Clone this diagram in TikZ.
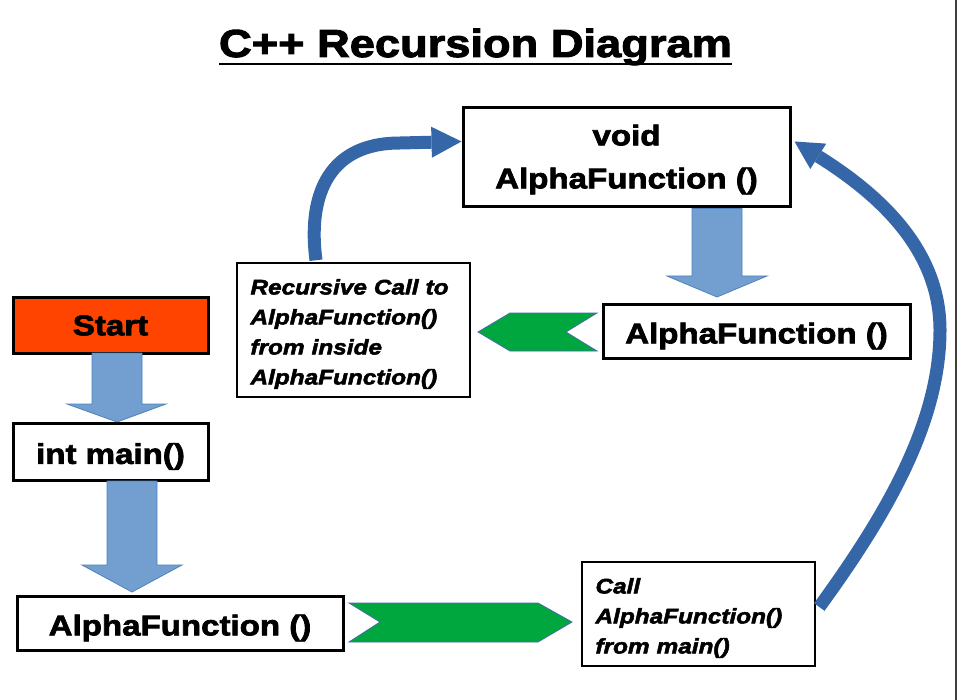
\documentclass[tikz,border=0pt]{standalone}
\usepackage{fontspec}
\newfontfamily\blk[FakeStretch=1.16,FakeBold=2.5]{Liberation Sans}
\usetikzlibrary{arrows.meta,calc}
\definecolor{startred}{RGB}{255,68,0}
\definecolor{lblue}{RGB}{114,159,207}
\definecolor{lblueedge}{RGB}{79,129,189}
\definecolor{dblue}{RGB}{53,103,168}
\definecolor{cgreen}{RGB}{0,166,62}
\definecolor{cgreenedge}{RGB}{70,110,170}
\begin{document}
\begin{tikzpicture}[x=1pt,y=-1pt,
  box/.style={draw=black, line width=3pt, fill=white, inner sep=0pt},
  notebox/.style={draw=black, line width=2.5pt, fill=white, inner sep=0pt, minimum width=233pt},
  txt/.style={inner sep=0pt, align=center, font=\blk\bfseries\fontsize{28.5}{43}\selectfont},
  notetxt/.style={inner sep=0pt, text width=206pt, align=left,
    font=\blk\bfseries\itshape\fontsize{21}{30}\selectfont},
  blockarrow/.style={fill=lblue, draw=lblueedge, line width=0.8pt, line join=miter},
  chevron/.style={fill=cgreen, draw=cgreenedge, line width=0.8pt, line join=miter},
  curvearrow/.style={draw=dblue, line width=13pt}
]
\useasboundingbox (0,0) rectangle (957,700);
\fill[white] (0,0) rectangle (957,700);

% title
\node[inner sep=0pt, anchor=base, font=\blk\bfseries\fontsize{39}{39}\selectfont] (title) at (475.5,57) {C++ Recursion Diagram};
\draw[line width=2.5pt] ($(title.base west)+(0,7)$) -- ($(title.base east)+(0,7)$);

% boxes
\node[box, minimum width=327pt, minimum height=99pt] (void) at (626.5,157.5) {};
\node[txt] (voidtxt) at ($(void.center)+(0,2)$) {void\\AlphaFunction ()};
\node[box, minimum width=307pt, minimum height=54pt] (afr) at (756.5,331) {};
\node[txt] (afrtxt) at ($(afr.center)+(0,5)$) {AlphaFunction ()};
\node[notebox, minimum height=134pt] (rec) at (353.5,330) {};
\node[notetxt] (rectxt) at ($(rec.center)+(0,4)$) {Recursive Call to\\AlphaFunction()\\from inside\\AlphaFunction()};
\node[box, fill=startred, minimum width=195pt, minimum height=56pt] (start) at (110.5,325) {};
\node[txt] (starttxt) at ($(start.center)+(0,0.5)$) {Start};
\node[box, minimum width=195pt, minimum height=57pt] (main) at (110.5,451.5) {};
\node[txt] (maintxt) at ($(main.center)+(0,5)$) {int main()};
\node[box, minimum width=326pt, minimum height=54pt] (afl) at (180,623) {};
\node[txt] (afltxt) at ($(afl.center)+(0,5)$) {AlphaFunction ()};
\node[notebox, minimum height=104pt] (call) at (698.5,614) {};
\node[notetxt] (calltxt) at ($(call.center)+(0,4)$) {Call\\AlphaFunction()\\from main()};

% block arrows (light blue)
\draw[blockarrow] (92,353) -- (142,353) -- (142,404) -- (166,404) -- (117,422) -- (67,404) -- (92,404) -- cycle;
\draw[blockarrow] (107,481) -- (157,481) -- (157,565) -- (182,565) -- (132,592) -- (82,565) -- (107,565) -- cycle;
\draw[blockarrow] (692,208.5) -- (742,208.5) -- (742,276) -- (767,276) -- (717,297) -- (667,276) -- (692,276) -- cycle;

% green chevrons
\draw[chevron] (349,603) -- (538,603) -- (572,622) -- (538,642) -- (349,642) -- (380,622) -- cycle;
\draw[chevron] (478,332) -- (510,313) -- (597,313) -- (566,332) -- (597,351) -- (510,351) -- cycle;

% curved arrows
\coordinate (tipA) at ($(void.north west)+(0,35)$);
\draw[curvearrow, -{Triangle[length=30pt,width=31pt,line width=0pt]}]
  ($(rec.north)+(-37.5,-1.5)$) .. controls (308,200) and (325,143) .. (400,143) -- (tipA);
\coordinate (tipB) at ($(void.north east)+(3,35)$);
\draw[curvearrow, -{Triangle[length=28pt,width=30pt,line width=0pt]}]
  ($(call.east)+(3,-7)$) .. controls (890,510) and (940,420) .. (940,330)
  .. controls (940,250) and (880,195) .. (tipB);

% right edge
\draw[line width=2pt, black!75] (956,0) -- (956,700);
\end{tikzpicture}
\end{document}
